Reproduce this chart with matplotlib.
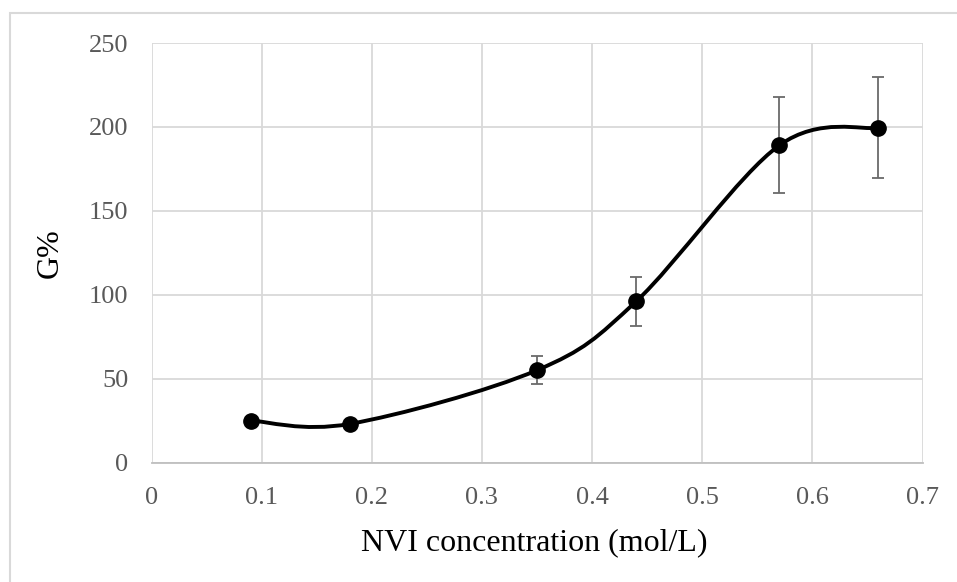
import matplotlib
matplotlib.use("Agg")
import matplotlib.pyplot as plt
from matplotlib.path import Path
from matplotlib.patches import PathPatch, Rectangle

# NVI concentration (mol/L) vs. grafting percentage G%
conc = [0.09, 0.18, 0.35, 0.44, 0.57, 0.66]
g_pct = [25, 23, 55, 96, 189, 199.5]
g_err = [1, 1, 8.2, 14.5, 28.6, 30]

x_ticks = [0, 0.1, 0.2, 0.3, 0.4, 0.5, 0.6, 0.7]
y_ticks = [0, 50, 100, 150, 200, 250]

plt.rcParams["font.family"] = ["Liberation Serif", "DejaVu Serif"]

W, H = 957, 582
fig = plt.figure(figsize=(W / 100, H / 100), dpi=100)
ax = fig.add_axes([151.5 / W, 1 - 462.5 / H, (922.5 - 151.5) / W, (462.5 - 43) / H])

# chart-area frame
fig.patches.append(Rectangle((10 / W, -0.05), 1.1, 1 - 12.7 / H + 0.05,
                             transform=fig.transFigure, fill=False,
                             edgecolor="#d9d9d9", linewidth=1.5))


def smooth_path(xs, ys, tension=6.0):
    """Cubic Bezier through the points, spreadsheet-style smoothing."""
    pts = list(zip(xs, ys))
    n = len(pts)
    verts = [pts[0]]
    codes = [Path.MOVETO]
    for i in range(n - 1):
        p0 = pts[i - 1] if i > 0 else pts[i]
        p1 = pts[i]
        p2 = pts[i + 1]
        p3 = pts[i + 2] if i + 2 < n else pts[i + 1]
        c1 = (p1[0] + (p2[0] - p0[0]) / tension, p1[1] + (p2[1] - p0[1]) / tension)
        c2 = (p2[0] - (p3[0] - p1[0]) / tension, p2[1] - (p3[1] - p1[1]) / tension)
        verts += [c1, c2, p2]
        codes += [Path.CURVE4] * 3
    return Path(verts, codes)


ax.add_patch(PathPatch(smooth_path(conc, g_pct), facecolor="none",
                       edgecolor="black", linewidth=2.8, zorder=3,
                       capstyle="round", joinstyle="round"))
ax.errorbar(conc, g_pct, yerr=g_err, fmt="none", ecolor="#6a6a6a",
            elinewidth=1.3, capsize=4.5, capthick=1.3, zorder=4)
ax.plot(conc, g_pct, linestyle="none", marker="o", markersize=11,
        color="black", zorder=5)

ax.set_xlim(0, 0.7)
ax.set_ylim(0, 250)
ax.set_xticks(x_ticks)
ax.set_xticklabels([f"{t:g}" for t in x_ticks])
ax.set_yticks(y_ticks)
ax.grid(True, color="#d9d9d9", linewidth=1.3)
ax.set_axisbelow(True)
for side in ("left", "top", "right"):
    ax.spines[side].set_visible(False)
ax.spines["bottom"].set_color("#bfbfbf")
ax.spines["bottom"].set_linewidth(1.3)
ax.tick_params(length=0, labelsize=19, colors="#595959")
ax.tick_params(axis="x", pad=18)
ax.tick_params(axis="y", pad=16.5)

fig.text(534 / W, 1 - 550 / H, "NVI concentration (mol/L)", fontsize=23,
         color="black", ha="center", va="baseline")
fig.text(50 / W, 1 - 253 / H, "G%", fontsize=23, color="black",
         rotation=90, ha="center", va="center")

fig.savefig("out.png", dpi=100)
